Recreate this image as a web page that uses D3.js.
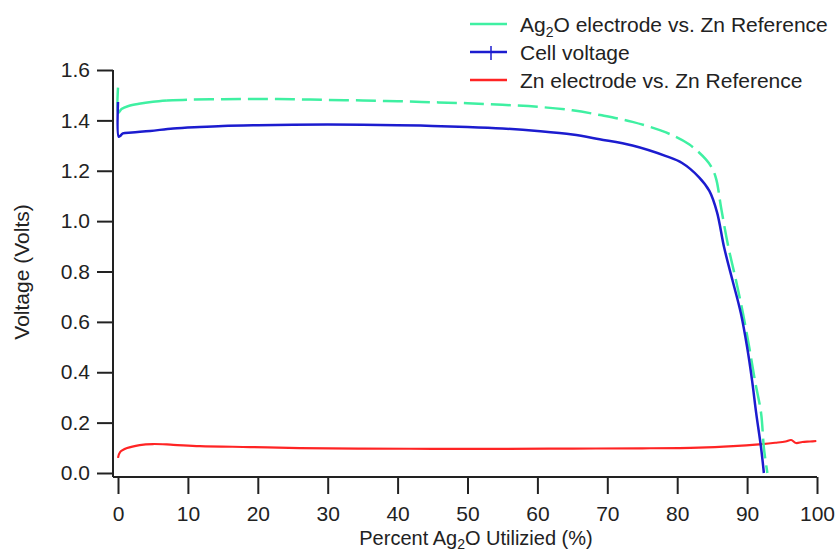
<!DOCTYPE html>
<html>
<head>
<meta charset="utf-8">
<script src="https://cdn.jsdelivr.net/npm/d3@7"></script>
<style>
  body { margin: 0; background: #fff; }
  text { font-family: "Liberation Sans", Arial, sans-serif; fill: #222; }
</style>
</head>
<body>
<div class="main"></div>
<script>
// [percent Ag2O utilized, volts]
let ag2oData = [
  [0, 1.53], [0.05, 1.43], [0.5, 1.445], [1.5, 1.457], [3, 1.466], [5, 1.474],
  [7, 1.479], [10, 1.482], [15, 1.484], [20, 1.485], [25, 1.484], [30, 1.481],
  [35, 1.479], [40, 1.476], [45, 1.472], [50, 1.468], [55, 1.462], [60, 1.454],
  [65, 1.44], [69, 1.421], [73.6, 1.394], [78.4, 1.352], [81.7, 1.305], [84.1, 1.245],
  [85, 1.21], [85.6, 1.165], [86.3, 1.05], [87.3, 0.9], [88.4, 0.766], [89.4, 0.635],
  [90.3, 0.5], [91.1, 0.37], [92, 0.238], [92.4, 0.1], [92.9, 0.0]
]

let cellData = [
  [0, 1.473], [0.1, 1.335], [0.3, 1.338], [0.7, 1.348], [2, 1.352], [4.6, 1.358],
  [7.9, 1.368], [11.7, 1.374], [15, 1.378], [20, 1.381], [25, 1.383], [30, 1.384],
  [35, 1.383], [40, 1.381], [45, 1.378], [50, 1.374], [55, 1.368], [60, 1.358],
  [65, 1.344], [68.9, 1.325], [73.6, 1.3], [78.4, 1.258], [80.7, 1.231], [83.1, 1.175],
  [84.6, 1.12], [85.7, 1.035], [86.7, 0.897], [87.9, 0.766], [89.1, 0.635], [90, 0.5],
  [90.7, 0.37], [91.3, 0.238], [92, 0.1], [92.4, 0.0]
]

let znData = [
  [0, 0.06], [0.3, 0.083], [1.3, 0.099], [3.1, 0.111], [5, 0.115], [7.9, 0.112],
  [11.7, 0.107], [18.9, 0.103], [26, 0.099], [35, 0.097], [45, 0.096], [55, 0.096],
  [65, 0.097], [75, 0.098], [83.1, 0.101], [88, 0.107], [91.7, 0.114], [94, 0.12],
  [95.5, 0.125], [96.3, 0.131], [97, 0.119], [97.9, 0.123], [99, 0.125], [99.9, 0.127]
]

let xTicks = [0, 10, 20, 30, 40, 50, 60, 70, 80, 90, 100]
let yTicks = [0, 0.2, 0.4, 0.6, 0.8, 1.0, 1.2, 1.4, 1.6]

let colors = {ag2o: '#3ff0a2', cell: '#1c1ccf', zn: '#ff2424'}

let svg = d3.select('.main').append('svg')
  .attr('width', 838)
  .attr('height', 552)

let xScale = d3.scaleLinear().domain([0, 100]).range([118, 817])
let yScale = d3.scaleLinear().domain([0, 1.6]).range([473, 70])

let axisBase = 477
let axisLeftX = 113

// axes
let xAxis = d3.axisBottom(xScale).tickValues(xTicks).tickSize(17).tickSizeOuter(0).tickPadding(12)
let yAxis = d3.axisLeft(yScale).tickValues(yTicks).tickSize(16).tickSizeOuter(0).tickPadding(7)
  .tickFormat(d3.format('.1f'))

let gx = svg.append('g')
  .attr('transform', `translate(0, ${axisBase})`)
  .call(xAxis)
gx.select('.domain').remove()
gx.append('line')
  .attr('x1', axisLeftX).attr('x2', xScale(100))
  .attr('y1', 0).attr('y2', 0)

let gy = svg.append('g')
  .attr('transform', `translate(${axisLeftX}, 0)`)
  .call(yAxis)
gy.select('.domain').remove()
gy.append('line')
  .attr('x1', 0).attr('x2', 0)
  .attr('y1', yScale(1.6)).attr('y2', axisBase)

svg.selectAll('.tick line, g > line')
  .attr('stroke', '#222')
  .attr('stroke-width', 2)
svg.selectAll('.tick text')
  .style('font-size', '21px')
  .attr('fill', '#222')

// axis titles
let xTitle = svg.append('text')
  .attr('x', 476).attr('y', 545)
  .attr('text-anchor', 'middle')
  .style('font-size', '20px')
xTitle.append('tspan').text('Percent Ag')
xTitle.append('tspan').text('2').style('font-size', '14px').attr('dy', 4)
xTitle.append('tspan').text('O Utilizied (%)').attr('dy', -4)

svg.append('text')
  .attr('transform', 'translate(29, 272) rotate(-90)')
  .attr('text-anchor', 'middle')
  .style('font-size', '21px')
  .text('Voltage (Volts)')

// curves
let line = d3.line()
  .curve(d3.curveCatmullRom.alpha(0.5))
  .x(d => xScale(d[0]))
  .y(d => yScale(d[1]))

let ag2oSolid = ag2oData.filter(d => d[0] <= 7)
let ag2oDashed = ag2oData.filter(d => d[0] >= 7)

svg.append('path')
  .datum(znData)
  .attr('d', line)
  .attr('fill', 'none')
  .attr('stroke', colors.zn)
  .attr('stroke-width', 2.2)

svg.append('path')
  .datum(ag2oSolid)
  .attr('d', line)
  .attr('fill', 'none')
  .attr('stroke', colors.ag2o)
  .attr('stroke-width', 2.5)

svg.append('path')
  .datum(ag2oDashed)
  .attr('d', line)
  .attr('fill', 'none')
  .attr('stroke', colors.ag2o)
  .attr('stroke-width', 2.5)
  .attr('stroke-dasharray', '20,7')

svg.append('path')
  .datum(cellData)
  .attr('d', line)
  .attr('fill', 'none')
  .attr('stroke', colors.cell)
  .attr('stroke-width', 2.5)
  .attr('stroke-linejoin', 'round')

// legend
let legend = svg.append('g').attr('transform', 'translate(470, 24)')
let rowH = 28

let rows = [
  {color: colors.ag2o, parts: [['Ag', 0], ['2', 1], ['O electrode vs. Zn Reference', 0]]},
  {color: colors.cell, parts: [['Cell voltage', 0]], mark: true},
  {color: colors.zn, parts: [['Zn electrode vs. Zn Reference', 0]]}
]

rows.forEach((r, i) => {
  let g = legend.append('g').attr('transform', `translate(0, ${i * rowH})`)
  g.append('line')
    .attr('x1', 0).attr('x2', 37)
    .attr('y1', 0).attr('y2', 0)
    .attr('stroke', r.color)
    .attr('stroke-width', 2.5)
  if (r.mark) {
    g.append('line')
      .attr('x1', 21).attr('x2', 21)
      .attr('y1', -6).attr('y2', 8)
      .attr('stroke', r.color)
      .attr('stroke-width', 1.5)
  }
  let t = g.append('text')
    .attr('x', 50).attr('y', 7.5)
    .style('font-size', '21px')
  let shift = 0
  r.parts.forEach(p => {
    let s = t.append('tspan').text(p[0])
    if (p[1]) {
      s.style('font-size', '14px').attr('dy', 5)
      shift = 5
    } else if (shift) {
      s.attr('dy', -shift)
      shift = 0
    }
  })
})
</script>
</body>
</html>
